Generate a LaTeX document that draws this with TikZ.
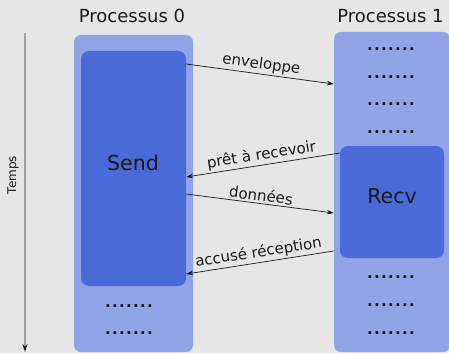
\documentclass[tikz,border=0pt]{standalone}
\usepackage{fontspec}
\setmainfont{DejaVu Sans}
\newfontfamily\dotfont{DejaVu Sans Bold}
\usetikzlibrary{arrows.meta}
\definecolor{bg}{HTML}{E6E6E6}
\definecolor{proclight}{HTML}{8FA5E8}
\definecolor{procdark}{HTML}{4A6AD8}
\definecolor{ink}{HTML}{1A1A1A}
\definecolor{axisgray}{HTML}{A0A0A0}
% a row of seven spaced dots marking an idle stretch
\newcommand\idledots{.\kern1.3pt.\kern1.3pt.\kern1.3pt.\kern1.3pt.\kern1.3pt.\kern1.3pt.}
\tikzset{
  column/.style={fill=proclight, draw=none, rounded corners=7pt, inner sep=0pt},
  callbox/.style={fill=procdark, draw=none, rounded corners=8pt, inner sep=0pt},
  calltext/.style={text=ink, font=\fontsize{20.5}{24}\selectfont},
  title/.style={text=ink, font=\fontsize{18}{22}\selectfont, anchor=base},
  dotrow/.style={text=ink, font=\dotfont\fontsize{15}{18}\selectfont, anchor=base, inner sep=0pt},
  msg/.style={draw=ink, line width=0.7pt, -{Stealth[length=7pt,width=4.5pt]}},
  msglabel/.style={text=ink, font=\fontsize{15}{18}\selectfont, sloped, above, inner sep=2pt},
}
\begin{document}
\begin{tikzpicture}[x=1pt, y=-1pt]
  \fill[bg] (0,0) rectangle (449,353);
  \useasboundingbox (0,0) rectangle (449,353);

  % time axis
  \coordinate (t0) at (25,33);
  \coordinate (t1) at (25,352);
  \draw[axisgray, line width=1.2pt, -{Stealth[length=8pt,width=5pt,color=ink]}] (t0) -- (t1);
  \node[text=ink, font=\fontsize{12}{14}\selectfont, rotate=90] (temps) at (13,175) {Temps};

  % process columns
  \node[title] (p0) at (132,22.5) {Processus 0};
  \node[title] (p1) at (390.5,22.5) {Processus 1};

  \node[column, minimum width=119pt, minimum height=317pt] (col0) at (133.5,193.5) {};
  \node[column, minimum width=116pt, minimum height=320pt] (col1) at (392,192) {};

  \node[callbox, minimum width=105pt, minimum height=235pt] (send) at (133.5,168.5) {};
  \node[calltext] (sendtxt) at (133,163) {Send};
  \node[callbox, minimum width=104pt, minimum height=112pt] (recv) at (392,202) {};
  \node[calltext] (recvtxt) at (392,196) {Recv};

  % idle stretches
  \node[dotrow] (d1a) at (391,50.5) {\idledots};
  \node[dotrow] (d1b) at (391,78) {\idledots};
  \node[dotrow] (d1c) at (391,105.5) {\idledots};
  \node[dotrow] (d1d) at (391,133) {\idledots};
  \node[dotrow] (d1e) at (391,278.5) {\idledots};
  \node[dotrow] (d1f) at (391,306) {\idledots};
  \node[dotrow] (d1g) at (391,334) {\idledots};
  \node[dotrow] (d0a) at (129,307) {\idledots};
  \node[dotrow] (d0b) at (129,334.5) {\idledots};

  % messages
  \draw[msg] (send.east |- 0,64) -- node[msglabel] {enveloppe} (col1.west |- 0,84);
  \draw[msg] (recv.west |- 0,153) -- node[msglabel] {prêt à recevoir} (send.east |- 0,177);
  \draw[msg] (send.east |- 0,194) -- node[msglabel] {données} (col1.west |- 0,213);
  \draw[msg] (col1.west |- 0,251) -- node[msglabel] {accusé réception} (send.east |- 0,274);
\end{tikzpicture}
\end{document}
